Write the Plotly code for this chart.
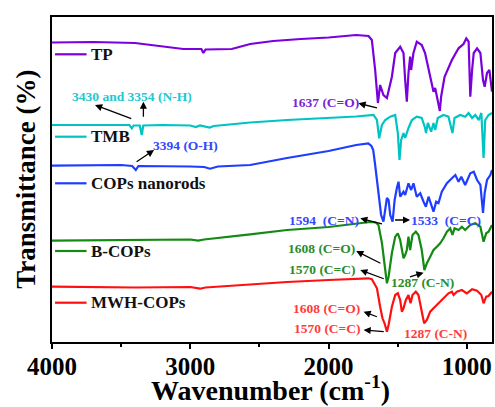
import plotly.graph_objects as go

# ---------------- data (wavenumber cm-1, offset transmittance a.u.) ----------------
tp_wn = [4000, 3700, 3400, 3300, 3200, 3050, 2920, 2905, 2890, 2700, 2567, 2400, 2200, 2000, 1800, 1730, 1711,
         1687, 1663, 1643, 1627, 1603, 1578, 1542, 1518, 1482, 1458, 1446, 1434, 1422, 1410, 1403, 1386, 1362,
         1326, 1302, 1265, 1241, 1229, 1210, 1195, 1186, 1161, 1108, 1060, 1024, 1004, 987, 975, 962, 950, 926,
         902, 883, 871, 854, 837, 818]
tp_t = [299.5, 300, 299, 297.5, 296, 293, 293, 289, 292.5, 293, 298, 301, 303, 304.5, 307, 306.5, 306,
        302, 272, 239, 257, 247, 244, 265.3, 289, 295.3, 289, 262, 240.3, 269, 285.3, 272, 289, 300.3,
        297, 289, 265.3, 250.3, 254, 239, 231, 245.3, 265.3, 282, 293.7, 298, 303.7, 300.3, 245.3, 272, 289, 293.7,
        289, 262, 255.3, 269, 272, 250.3]

tmb_wn = [4000, 3700, 3500, 3440, 3423, 3410, 3365, 3351, 3340, 3200, 3000, 2960, 2930, 2860, 2830, 2700, 2567,
          2300, 2000, 1800, 1675, 1650, 1634, 1614, 1590, 1554, 1518, 1499, 1487, 1475, 1458, 1446, 1422, 1397,
          1362, 1326, 1302, 1295, 1282, 1258, 1241, 1229, 1210, 1169, 1133, 1104, 1089, 1048, 1012, 987, 962,
          939, 914, 895, 879, 867, 843, 818]
tmb_t = [217, 217, 217.5, 217, 213.7, 216.5, 216.5, 207, 216.5, 217, 216.5, 215, 216.5, 214.5, 216, 218, 219.5,
         222, 224, 225.5, 227, 222, 203.7, 217, 222, 225.3, 227, 209, 182, 202, 209, 204, 214, 222,
         225.3, 224, 214, 209, 219, 210.3, 219, 212, 224, 227, 225.3, 209, 224, 227, 225.3, 229, 224,
         227, 222, 229, 184, 222, 227, 229]

cop_wn = [4000, 3700, 3500, 3420, 3394, 3375, 3200, 3000, 2900, 2857, 2800, 2567, 2300, 2000, 1800, 1713, 1690,
          1677, 1663, 1640, 1620, 1603, 1578, 1566, 1554, 1537, 1522, 1506, 1494, 1482, 1458, 1446, 1422, 1403,
          1386, 1362, 1337, 1313, 1296, 1277, 1258, 1241, 1222, 1205, 1181, 1144, 1108, 1083, 1060, 1040, 1012,
          975, 950, 926, 902, 883, 871, 854, 830, 818]
cop_t = [176.3, 176.5, 177, 176, 172, 176, 176, 175.5, 175, 173.3, 175.5, 177, 184, 191, 197, 198.7, 196,
         192, 177, 147, 127, 120.3, 144, 142, 127, 120.3, 142, 154, 160.3, 145.3, 150.3, 147, 158.7, 152,
         158.7, 145.3, 148.7, 140.3, 135.3, 145.3, 137, 130.3, 140.3, 139, 150.3, 158.7, 163.7, 167, 160.3, 165.3, 157,
         168.7, 170.3, 162, 157, 129, 149, 162, 167, 172]

bcop_wn = [4000, 3700, 3400, 3000, 2943, 2900, 2567, 2300, 2000, 1800, 1700, 1660, 1639, 1614, 1595, 1578, 1566,
           1542, 1518, 1499, 1482, 1458, 1446, 1434, 1422, 1410, 1393, 1369, 1350, 1326, 1307, 1289, 1265, 1241,
           1217, 1193, 1169, 1144, 1120, 1104, 1089, 1060, 1036, 1012, 975, 939, 902, 879, 860, 843, 818]
bcop_t = [101.3, 101.5, 102, 102.5, 101.3, 102.5, 107.7, 112, 115, 118, 120, 119.5, 117, 99, 77, 58.7, 65.3,
          89, 105.3, 108.7, 102, 83.7, 87, 92, 105.3, 92, 107, 110.3, 107, 92, 72, 78.7, 85.3, 92,
          95.3, 98.7, 103.7, 110.3, 113.7, 107, 113.7, 112, 115.3, 112, 117, 118.7, 115.3, 100.3, 108.7, 110.3, 117]

mwh_wn = [4000, 3700, 3400, 3000, 2929, 2890, 2567, 2300, 2000, 1713, 1687, 1650, 1627, 1610, 1595, 1578, 1566,
          1542, 1518, 1499, 1482, 1470, 1458, 1441, 1422, 1407, 1393, 1369, 1350, 1330, 1309, 1289, 1265, 1241,
          1217, 1193, 1161, 1133, 1108, 1096, 1072, 1036, 1000, 962, 926, 895, 879, 860, 843, 818]
mwh_t = [55.3, 55, 54.5, 55, 53.3, 54.5, 57.7, 60, 62, 63.7, 62.7, 53.7, 35.3, 23.7, 18.7, 10.3, 17,
         35.3, 47, 48.7, 42, 30.3, 33.7, 42, 47, 38.7, 47, 50.3, 47, 32, 18.7, 22, 30.3, 33.7,
         37, 40.3, 45.3, 48.7, 50.3, 47, 50.3, 52, 48.7, 52.7, 51.3, 47, 38.7, 45.3, 46, 50.3]

series_names = ["TP", "TMB", "COPs nanorods", "B-COPs", "MWH-COPs"]
x_ticks = [4000, 3000, 2000, 1000]

# ---------------- styling ----------------
C_TP, C_TMB, C_COP, C_B, C_MWH = "#7A00DC", "#00C4C4", "#1F3DFF", "#138A13", "#FF1010"
T_TP, T_TMB, T_COP, T_B, T_MWH = "#7A22D6", "#22C8D0", "#3347FF", "#2A8C2A", "#FF3B3B"
FONT = "Liberation Serif"

fig = go.Figure()
for wn, t, name, col in [(tp_wn, tp_t, series_names[0], C_TP), (tmb_wn, tmb_t, series_names[1], C_TMB),
                         (cop_wn, cop_t, series_names[2], C_COP), (bcop_wn, bcop_t, series_names[3], C_B),
                         (mwh_wn, mwh_t, series_names[4], C_MWH)]:
    fig.add_trace(go.Scatter(x=wn, y=t, mode="lines", name=name, line=dict(color=col, width=2.2),
                             showlegend=False))

# in-plot legend: short line + label near each curve
legend_pos = [(287.7, C_TP), (205.3, C_TMB), (158.7, C_COP), (91, C_B), (39.3, C_MWH)]
for name, (ly, col) in zip(series_names, legend_pos):
    fig.add_shape(type="line", x0=3978, x1=3750, y0=ly, y1=ly, xref="x", yref="y",
                  line=dict(color=col, width=2.2))
    fig.add_annotation(x=3730, y=ly, text=name, showarrow=False, xanchor="left", yanchor="middle",
                       font=dict(family=FONT, size=17, color="#111111", weight="bold"))

# peak labels (text centre x, y, colour)
labels = [
    ("3430 and 3354 (N-H)", 3419, 245.3, T_TMB),
    ("3394 (O-H)", 3034, 196.3, T_COP),
    ("1637 (C=O)", 2025, 239.7, T_TP),
    ("1594\u00a0\u00a0(C=N)", 2033, 121.3, T_COP),
    ("1533\u00a0\u00a0(C=C)", 1153, 121.3, T_COP),
    ("1608 (C=O)", 2051, 93.7, T_B),
    ("1570 (C=C)", 2041, 73, T_B),
    ("1287 (C-N)", 1323, 59.3, T_B),
    ("1608 (C=O)", 2012, 33.7, T_MWH),
    ("1570 (C=C)", 2006, 13.7, T_MWH),
    ("1287 (C-N)", 1226, 8.7, T_MWH),
]
for txt, lx, ly, col in labels:
    fig.add_annotation(x=lx, y=ly, text=txt, showarrow=False, xanchor="center", yanchor="middle",
                       font=dict(family=FONT, size=13.5, color=col, weight="bold"))

# arrows (tail -> tip)
arrows = [
    (3416, 222.7, 3689, 237), (3339, 223.7, 3339, 240.3), (3399, 179.3, 3262, 192),
    (1639, 233.7, 1784, 238.7), (1603, 117.7, 1771, 123.7), (1530, 122, 1410, 122),
    (1614, 78, 1800, 91), (1590, 62.7, 1771, 72), (1422, 64.7, 1313, 69.3),
    (1639, 24.7, 1747, 30.3), (1590, 10.3, 1747, 12),
]
for tx, ty, hx, hy in arrows:
    fig.add_annotation(x=hx, y=hy, ax=tx, ay=ty, axref="x", ayref="y", xref="x", yref="y", text="",
                       showarrow=True, arrowhead=2, arrowsize=1.1, arrowwidth=1.3, arrowcolor="black")

# axis titles
fig.add_annotation(xref="paper", yref="paper", x=0.497, y=-0.142, text="Wavenumber (cm<sup>-1</sup>)",
                   showarrow=False, xanchor="center", yanchor="middle",
                   font=dict(family=FONT, size=28, color="black", weight="bold"))
fig.add_annotation(xref="paper", yref="paper", x=-0.061, y=0.50, text="Transmittance (%)", textangle=-90,
                   showarrow=False, xanchor="center", yanchor="middle",
                   font=dict(family=FONT, size=27, color="black", weight="bold"))

fig.update_layout(
    width=495, height=407,
    margin=dict(l=52, r=3, t=17, b=65),
    paper_bgcolor="white", plot_bgcolor="white",
    font=dict(family=FONT, color="black"),
)
fig.update_xaxes(
    range=[4000, 818], tickvals=x_ticks, ticktext=[str(v) for v in x_ticks], automargin=False,
    showgrid=False, zeroline=False, showline=True, linecolor="black", linewidth=2, mirror=True,
    ticks="outside", ticklen=5, tickwidth=2, tickcolor="black", ticklabelstandoff=-4,
    minor=dict(ticks="outside", ticklen=3, tickwidth=2, tickcolor="black", dtick=500, tick0=0),
    tickfont=dict(family=FONT, size=25, color="black", weight="bold"),
)
fig.update_yaxes(
    range=[0, 325], showticklabels=False, ticks="", showgrid=False, zeroline=False, automargin=False,
    showline=True, linecolor="black", linewidth=2, mirror=True,
)

fig.write_html("out.html", config={"displayModeBar": False},
               post_script="document.body.style.margin='0';document.body.style.overflow='hidden';")
